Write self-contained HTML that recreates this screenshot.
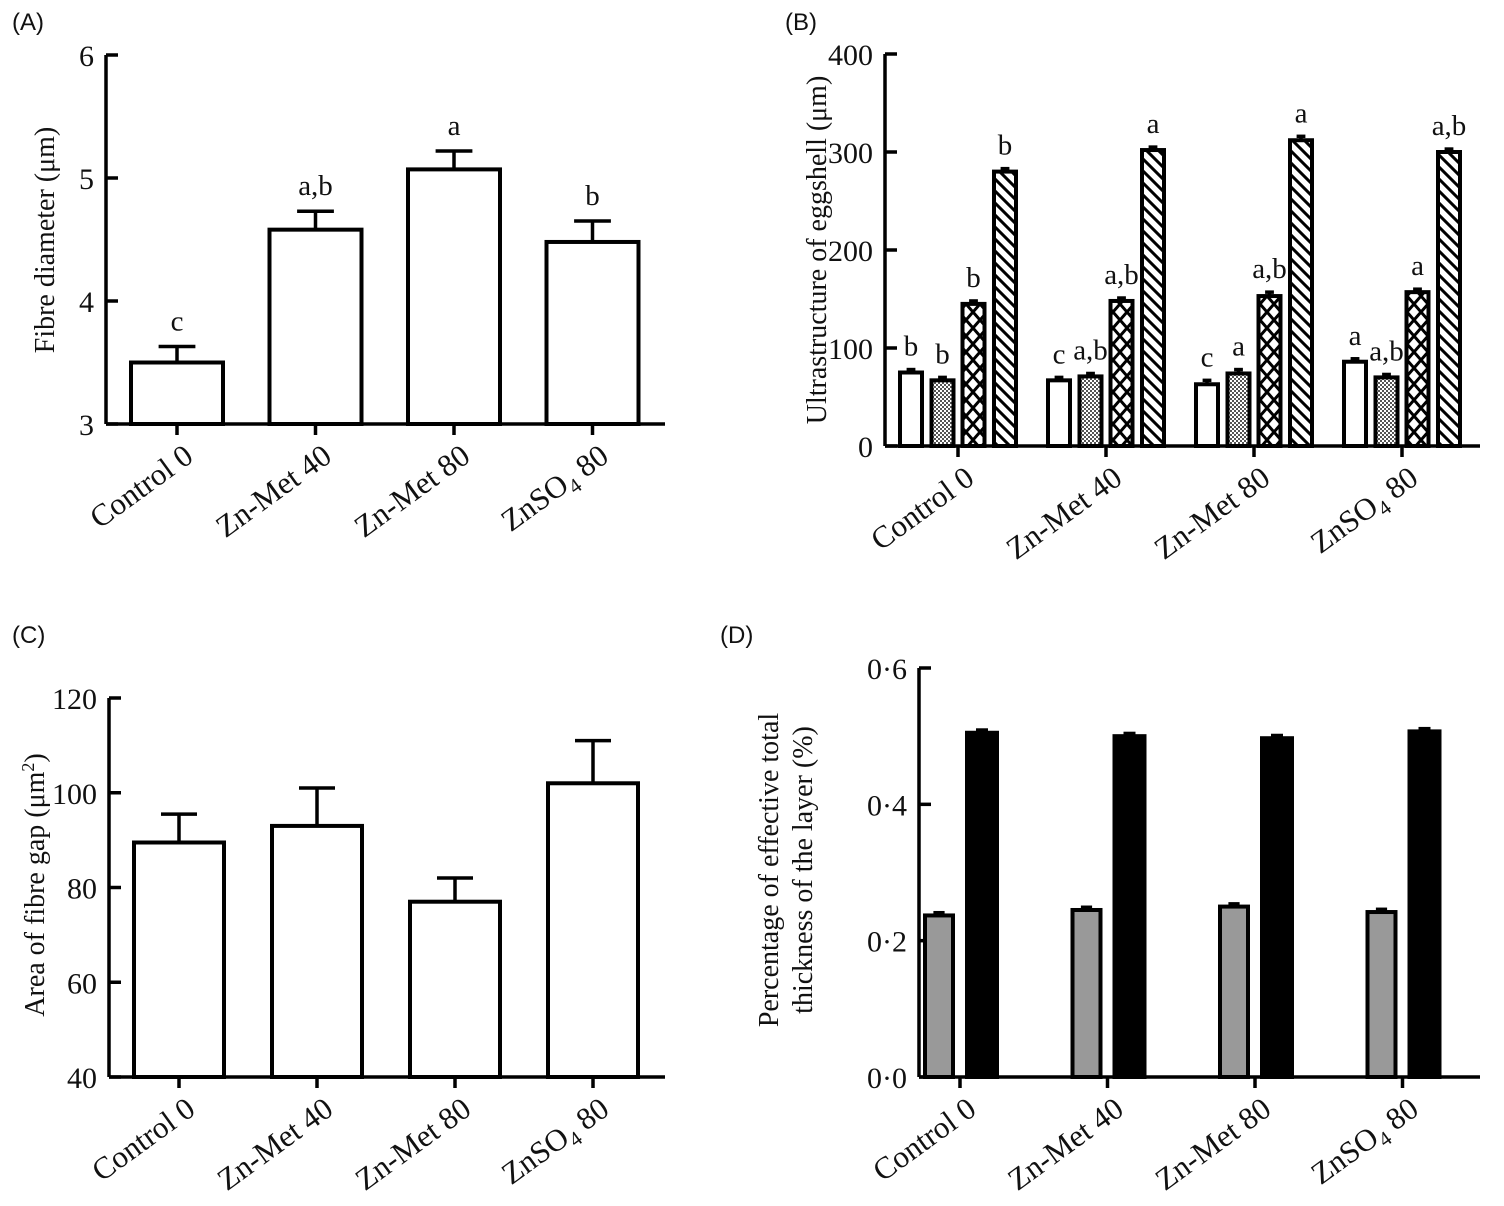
<!DOCTYPE html>
<html><head><meta charset="utf-8">
<style>
body{margin:0;background:#fff;}
svg text{font-family:"Liberation Serif",serif;fill:#111;}
</style></head>
<body>
<svg id="fig" width="1504" height="1201" viewBox="0 0 1504 1201" xmlns="http://www.w3.org/2000/svg">
<defs>
<pattern id="dots" width="4" height="4" patternUnits="userSpaceOnUse"><rect width="4" height="4" fill="#fff"/><rect width="2" height="2" fill="#555"/><rect x="2" y="2" width="2" height="2" fill="#555"/></pattern>
<pattern id="cross" width="14" height="16" patternUnits="userSpaceOnUse"><rect width="14" height="16" fill="#fff"/><path d="M0,0 L14,16 M14,0 L0,16" stroke="#000" stroke-width="3"/></pattern>
<pattern id="diag" width="12" height="12" patternUnits="userSpaceOnUse"><rect width="12" height="12" fill="#fff"/><path d="M-3,-3 L15,15 M-3,9 L3,15 M9,-3 L15,3" stroke="#000" stroke-width="3"/></pattern>
</defs>
</svg>
<script>
const categories = ["Control 0","Zn-Met 40","Zn-Met 80","ZnSO4 80"];
// Panel A
const aValues = [3.5, 4.58, 5.07, 4.48];
const aErrors = [0.13, 0.15, 0.15, 0.17];
const aLetters = ["c","a,b","a","b"];
const aTicks = [3,4,5,6];
// Panel B (4 series per group)
const bSeries1 = [75, 67, 63, 86];
const bSeries2 = [67, 71, 74, 70];
const bSeries3 = [145, 148, 153, 157];
const bSeries4 = [280, 302, 312, 300];
const bErr = [3, 3, 4, 3];
const bLetters1 = ["b","c","c","a"];
const bLetters2 = ["b","a,b","a","a,b"];
const bLetters3 = ["b","a,b","a,b","a"];
const bLetters4 = ["b","a","a","a,b"];
const bTicks = [0,100,200,300,400];
// Panel C
const cValues = [89.5, 93, 77, 102];
const cErrors = [6, 8, 5, 9];
const cTicks = [40,60,80,100,120];
// Panel D
const dGray = [0.237, 0.245, 0.25, 0.242];
const dBlack = [0.505, 0.5, 0.497, 0.507];
const dErr = [0.004, 0.004, 0.004, 0.004];
const dTicks = [0.0,0.2,0.4,0.6];

const NS="http://www.w3.org/2000/svg";
const svg=document.getElementById('fig');
function el(tag,attrs,parent){const e=document.createElementNS(NS,tag);for(const k in attrs)e.setAttribute(k,attrs[k]);(parent||svg).appendChild(e);return e;}

function axes(g,x0,x1,yTop,yBot,ticks,yMin,yMax,fmt,xt){
  const ys=v=>yBot-(v-yMin)/(yMax-yMin)*(yBot-yTop);
  const ya=el('line',{x1:x0,y1:yTop,x2:x0,y2:yBot,stroke:'#000','stroke-width':3.5},g);
  
  
  const xa=el('line',{x1:x0,y1:yBot,x2:x1,y2:yBot,stroke:'#000','stroke-width':3.5},g);
  
  
  ticks.forEach(t=>{
    el('line',{x1:x0,y1:ys(t),x2:x0+12,y2:ys(t),stroke:'#000','stroke-width':3.5},g);
    const tx=el('text',{x:x0-12,y:ys(t)+11,'text-anchor':'end','font-size':30},g);
    tx.textContent=fmt(t);
    
    
  });
  categories.forEach((c,i)=>{
    const x=xt(i);
    el('line',{x1:x,y1:yBot,x2:x,y2:yBot+11,stroke:'#000','stroke-width':3.5},g);
    const t=el('text',{transform:`translate(${x+18},${yBot+36}) rotate(-36)`,'text-anchor':'end','font-size':31},g);
    
    
    if(c==="ZnSO4 80"){t.innerHTML='ZnSO<tspan font-size="21" dy="7">4</tspan><tspan dy="-7"> 80</tspan>';}
    else t.textContent=c;
  });
  return ys;
}
function bar(g,cx,w,v,e,ys,yBot,fill,name){
  const r=el('rect',{x:cx-w/2,y:ys(v),width:w,height:yBot-ys(v),fill:fill,stroke:'#000','stroke-width':4},g);
  
  
  if(e>0){
    el('line',{x1:cx,y1:ys(v),x2:cx,y2:ys(v+e),stroke:'#000','stroke-width':3.5},g);
    el('line',{x1:cx-w*0.2,y1:ys(v+e),x2:cx+w*0.2,y2:ys(v+e),stroke:'#000','stroke-width':3.5},g);
  }
}
function letter(g,x,y,s){const t=el('text',{x:x,y:y,'text-anchor':'middle','font-size':29},g);t.textContent=s;
  
  }
function panelLabel(x,y,s){const t=el('text',{x:x,y:y,'font-size':24,style:'font-family:"Liberation Sans",sans-serif'});t.textContent=s;
  
  }
function ytitle(g,x,y,lines){const t=el('text',{transform:`translate(${x},${y}) rotate(-90)`,'text-anchor':'middle','font-size':28},g);
  
  
  lines.forEach((l,i)=>{const s=el('tspan',{x:0,dy:i?34:0},t);s.innerHTML=l;});}

// Panel A
{const g=el('g',{});
 const xt=i=>177+i*138.5;
 const ys=axes(g,106,665,55,424,aTicks,3,6,v=>v,xt);
 aValues.forEach((v,i)=>{bar(g,xt(i),92,v,aErrors[i],ys,424,'#fff','bar-a-'+i);letter(g,xt(i),ys(v+aErrors[i])-16,aLetters[i]);});
 ytitle(g,54,240,['Fibre diameter (μm)']);
 panelLabel(12,30,'(A)');}
// Panel B
{const g=el('g',{});
 const xt=i=>958+i*148;
 const ys=axes(g,885,1480,54,446,bTicks,0,400,v=>v,xt);
 const series=[bSeries1,bSeries2,bSeries3,bSeries4],fills=['#fff','url(#dots)','url(#cross)','url(#diag)'],lets=[bLetters1,bLetters2,bLetters3,bLetters4];
 const offs=[-47,-15.5,15.5,47];
 series.forEach((s,k)=>s.forEach((v,i)=>{const cx=xt(i)+offs[k];bar(g,cx,22,v,bErr[i],ys,446,fills[k],'bar-b-s'+(k+1)+'-'+i);letter(g,cx,ys(v+bErr[i])-14,lets[k][i]);}));
 ytitle(g,826,250,['Ultrastructure of eggshell (μm)']);
 panelLabel(785,30,'(B)');}
// Panel C
{const g=el('g',{});
 const xt=i=>179+i*138;
 const ys=axes(g,109,665,698,1077,cTicks,40,120,v=>v,xt);
 cValues.forEach((v,i)=>bar(g,xt(i),90,v,cErrors[i],ys,1077,'#fff','bar-c-'+i));
 ytitle(g,44,885,['Area of fibre gap (μm<tspan font-size="18" dy="-10">2</tspan><tspan dy="10">)</tspan>']);
 panelLabel(12,643,'(C)');}
// Panel D
{const g=el('g',{});
 const xt=i=>960+i*147.5;
 const ys=axes(g,919,1480,668,1077,dTicks,0,0.6,v=>v.toFixed(1).replace('.','·'),xt);
 dGray.forEach((v,i)=>bar(g,xt(i)-21,28,v,dErr[i],ys,1077,'#999','bar-d-gray-'+i));
 dBlack.forEach((v,i)=>bar(g,xt(i)+22,30,v,dErr[i],ys,1077,'#000','bar-d-black-'+i));
 ytitle(g,778,870,['Percentage of effective total','thickness of the layer (%)']);
 panelLabel(720,643,'(D)');}
</script>
</body></html>
